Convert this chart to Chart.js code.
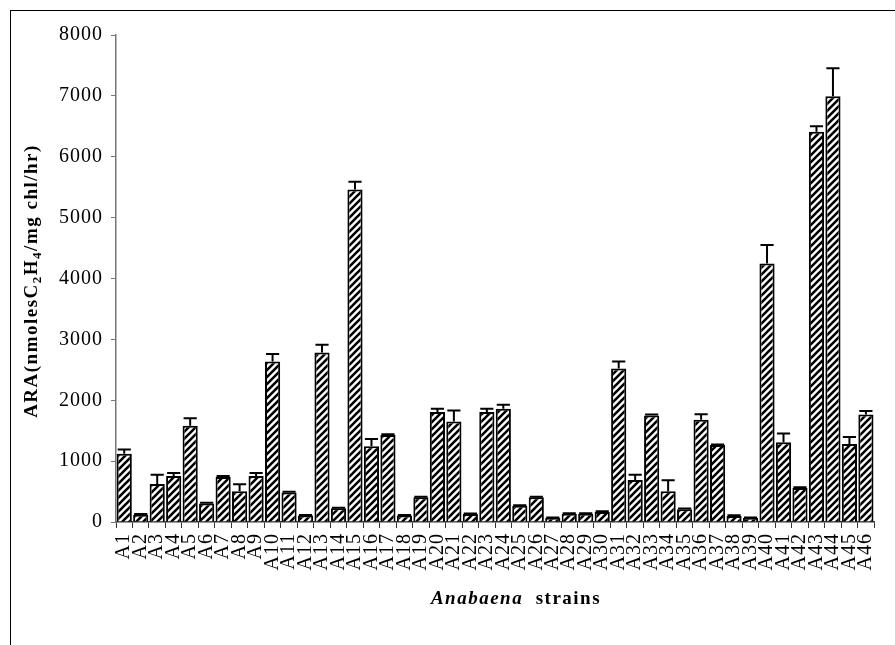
<!DOCTYPE html>
<html>
<head>
<meta charset="utf-8">
<script src="https://cdn.jsdelivr.net/npm/chart.js@4.4.1/dist/chart.umd.min.js"></script>
<style>
  html, body { margin: 0; padding: 0; background: #fff; }
  #wrap { position: relative; width: 895px; height: 645px; overflow: hidden; }
  #frame { position: absolute; left: 10px; top: 10px; width: 960px; height: 720px;
           border: 1px solid #000; box-sizing: border-box; }
  canvas { position: absolute; left: 0; top: 0; }
</style>
</head>
<body>
<div id="wrap">
  <div id="frame"></div>
  <canvas id="c" width="895" height="645"></canvas>
</div>
<script>
// Strains
const strains = ['A1','A2','A3','A4','A5','A6','A7','A8','A9','A10',
  'A11','A12','A13','A14','A15','A16','A17','A18','A19','A20',
  'A21','A22','A23','A24','A25','A26','A27','A28','A29','A30',
  'A31','A32','A33','A34','A35','A36','A37','A38','A39','A40',
  'A41','A42','A43','A44','A45','A46'];

// Acetylene reduction activity (nmoles C2H4 / mg chl / hr)
const araMeans = [1120, 120, 625, 755, 1580, 305, 740, 505, 755, 2635,
  485, 105, 2785, 225, 5460, 1245, 1430, 105, 405, 1805,
  1650, 130, 1805, 1860, 265, 405, 65, 135, 135, 165,
  2520, 690, 1750, 505, 210, 1680, 1265, 100, 65, 4245,
  1310, 560, 6410, 6995, 1280, 1765];

// Standard errors (upper bars only)
const araErrors = [70, 10, 150, 50, 125, 10, 15, 115, 50, 125,
  10, 10, 125, 10, 130, 120, 10, 10, 10, 55,
  180, 10, 55, 65, 10, 10, 10, 10, 10, 10,
  115, 85, 15, 180, 10, 90, 10, 10, 10, 305,
  145, 10, 90, 460, 115, 60];

// Y axis range and step
const yMin = 0, yMax = 8000, yStep = 1000;

// Diagonal hatch fill
function hatch() {
  const p = 7;
  const c = document.createElement('canvas');
  c.width = p; c.height = p;
  const g = c.getContext('2d');
  g.fillStyle = '#fff';
  g.fillRect(0, 0, p, p);
  g.strokeStyle = '#000';
  g.lineWidth = 2.6;
  g.beginPath();
  g.moveTo(-1, p + 1); g.lineTo(p + 1, -1);
  g.moveTo(-1, 1); g.lineTo(1, -1);
  g.moveTo(p - 1, p + 1); g.lineTo(p + 1, p - 1);
  g.stroke();
  return g.createPattern(c, 'repeat');
}

const SERIF = '"Liberation Serif", "Times New Roman", serif';

// Slightly spaced lettering for the axis text
const spacing = {
  id: 'spacing',
  beforeDraw(chart) { chart.ctx.letterSpacing = '1px'; },
  afterDraw(chart) { chart.ctx.letterSpacing = '0px'; }
};

// Upper error bars with caps
const errorBars = {
  id: 'errorBars',
  afterDatasetsDraw(chart) {
    const ctx = chart.ctx;
    const meta = chart.getDatasetMeta(0);
    const ys = chart.scales.y;
    ctx.save();
    ctx.strokeStyle = '#000';
    ctx.lineWidth = 2;
    meta.data.forEach((bar, i) => {
      const top = ys.getPixelForValue(araMeans[i] + araErrors[i]);
      const half = bar.width / 2 - 1;
      ctx.beginPath();
      ctx.moveTo(bar.x, bar.y);
      ctx.lineTo(bar.x, top);
      ctx.moveTo(bar.x - half, top);
      ctx.lineTo(bar.x + half, top);
      ctx.stroke();
    });
    ctx.restore();
  }
};

// Axis titles (mixed styles and subscripts)
const axisTitles = {
  id: 'axisTitles',
  afterDraw(chart) {
    const ctx = chart.ctx;
    ctx.save();
    ctx.fillStyle = '#000';
    ctx.textBaseline = 'alphabetic';
    ctx.letterSpacing = '1.5px';

    // X title
    const a = 'Anabaena', s = '  strains';
    const fa = 'italic bold 19px ' + SERIF, fs = 'bold 19px ' + SERIF;
    ctx.font = fa; const wa = ctx.measureText(a).width;
    ctx.font = fs; const ws = ctx.measureText(s).width;
    let x = 516 - (wa + ws) / 2;
    ctx.font = fa; ctx.fillText(a, x, 604);
    ctx.font = fs; ctx.fillText(s, x + wa, 604);

    // Y title
    const parts = [
      ['ARA(nmolesC', false], ['2', true], ['H', false], ['4', true], ['/mg chl/hr)', false]
    ];
    const big = 'bold 19px ' + SERIF, small = 'bold 13px ' + SERIF;
    let total = 0;
    parts.forEach(([t, sub]) => { ctx.font = sub ? small : big; total += ctx.measureText(t).width; });
    ctx.translate(37, 281);
    ctx.rotate(-Math.PI / 2);
    let px = -total / 2;
    parts.forEach(([t, sub]) => {
      ctx.font = sub ? small : big;
      ctx.fillText(t, px, sub ? 4 : 0);
      px += ctx.measureText(t).width;
    });
    ctx.restore();
  }
};

new Chart(document.getElementById('c'), {
  type: 'bar',
  data: {
    labels: strains,
    datasets: [{
      data: araMeans,
      backgroundColor: hatch(),
      borderColor: '#000',
      borderWidth: 2,
      categoryPercentage: 0.92,
      barPercentage: 1.0
    }]
  },
  options: {
    responsive: false,
    animation: false,
    layout: { padding: { left: 0, top: 35, right: 8, bottom: 0 } },
    plugins: { legend: { display: false }, tooltip: { enabled: false } },
    scales: {
      x: {
        afterFit(axis) { axis.height = 123; },
        grid: { drawOnChartArea: false, tickLength: 6, color: '#333', offset: true },
        border: { color: '#333', width: 1.5 },
        ticks: {
          autoSkip: false, minRotation: 90, maxRotation: 90,
          color: '#000', padding: 5,
          font: { family: SERIF, size: 20 }
        }
      },
      y: {
        min: yMin, max: yMax,
        afterFit(axis) { axis.width = 116; },
        grid: { drawOnChartArea: false, tickLength: 5, color: '#777' },
        border: { color: '#777', width: 1.5 },
        ticks: {
          stepSize: yStep, color: '#000', padding: 8,
          font: { family: SERIF, size: 20 },
          callback: (v) => String(v)
        }
      }
    }
  },
  plugins: [spacing, errorBars, axisTitles]
});
</script>
</body>
</html>
